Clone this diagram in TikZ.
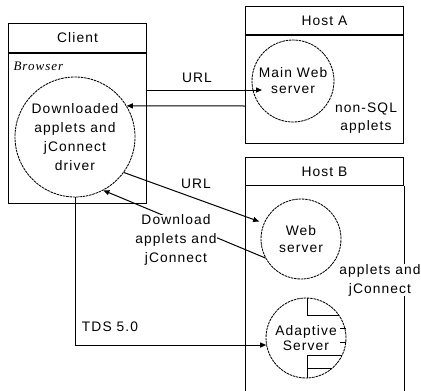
\documentclass[tikz,border=0pt]{standalone}
\usepackage{fontspec}
\setmainfont{Liberation Sans}[LetterSpace=8]
\newfontfamily\brfont{Liberation Serif Italic}[LetterSpace=8]
\usetikzlibrary{arrows.meta,calc}
\begin{document}
\begin{tikzpicture}[x=1pt,y=-1pt,line width=1pt,
  txt/.style={font=\fontsize{13.8}{17}\selectfont,align=center,inner sep=0pt},
  srv/.style={circle,draw,dash pattern=on 2.5pt off 0.8pt,line width=0.85pt,inner sep=0pt,txt},
  boxtitle/.style={draw,minimum width=#1,minimum height=28pt,inner sep=0pt,anchor=north west,txt},
  boxbody/.style={draw,minimum width=#1,anchor=north west,inner sep=0pt},
  arr/.style={-{Triangle[length=6pt,width=5pt]}}]
\useasboundingbox (0,0) rectangle (421,391);
% Client
\node[boxtitle=138pt,minimum height=29pt] (ctitle) at (8,23) {Client};
\node[boxbody=138pt,minimum height=150pt] (cbody) at (ctitle.south west) {};
\node[anchor=west,inner sep=0pt,font=\brfont\fontsize{13}{13}\selectfont] (browser) at (13,66) {Browser};
% Host A
\node[boxtitle=158pt] (hatitle) at (245,6) {Host A};
\node[boxbody=158pt,minimum height=108pt] (habody) at (hatitle.south west) {};
% Host B
\node[boxtitle=158pt] (hbtitle) at (245,157) {Host B};
\node[boxbody=158pt,draw=none,minimum height=208pt] (hbbody) at (hbtitle.south west) {};
\draw (hbbody.north west) -- (hbbody.south west);
\draw (hbbody.north east) -- (hbbody.south east);
% servers
\node[srv,minimum size=120pt,font=\fontsize{13.8}{19}\selectfont] (cc) at (75,137) {Downloaded\\applets and\\jConnect\\driver};
\node[srv,minimum size=82pt,font=\fontsize{13.8}{16}\selectfont] (mws) at (293,81) {Main Web\\server};
\node[srv,minimum size=80pt,font=\fontsize{13.8}{17}\selectfont] (ws) at (301,239) {Web\\server};
\node[srv,minimum size=80pt,font=\fontsize{13.8}{15}\selectfont] (as) at (306,338) {Adaptive\\Server};
\begin{scope}[shift={(as.center)},line width=0.85pt]
  \draw (1,-40) -- (1,-23) -- (33,-23);
  \draw (1,40) -- (1,17) -- (36,17);
  \draw (1,30) -- (26,30);
  \draw (34,-10) -- (40,-10);
  \draw (34,4) -- (40,4);
\end{scope}
% labels
\node[txt,font=\fontsize{13.8}{18}\selectfont] (nonsql) at (366,118) {non-SQL\\applets};
\node[txt,fill=white,font=\fontsize{13.8}{19}\selectfont] (appj) at (380,280) {applets and\\jConnect};
% connectors
\coordinate (urlAs) at (146,90);
\coordinate (urlAe) at (262,90);
\coordinate (retS) at (245,106);
\draw[arr] (urlAs) -- (urlAe);
\node[txt] (url1) at (197,78) {URL};
\draw[arr] (retS) -- (cc.31);
\draw[arr,shorten >=5pt] (cc.-36) -- (ws.157);
\node[txt] (url2) at (196,184) {URL};
\draw[arr] (ws.208) -- (cc.-62);
\node[txt,fill=white,font=\fontsize{13.8}{19}\selectfont] (dl) at (176,240) {Download\\applets and\\jConnect};
\draw[arr] (cc.south) |- (as.190);
\node[txt] (tds) at (110,327) {TDS 5.0};
\end{tikzpicture}
\end{document}
